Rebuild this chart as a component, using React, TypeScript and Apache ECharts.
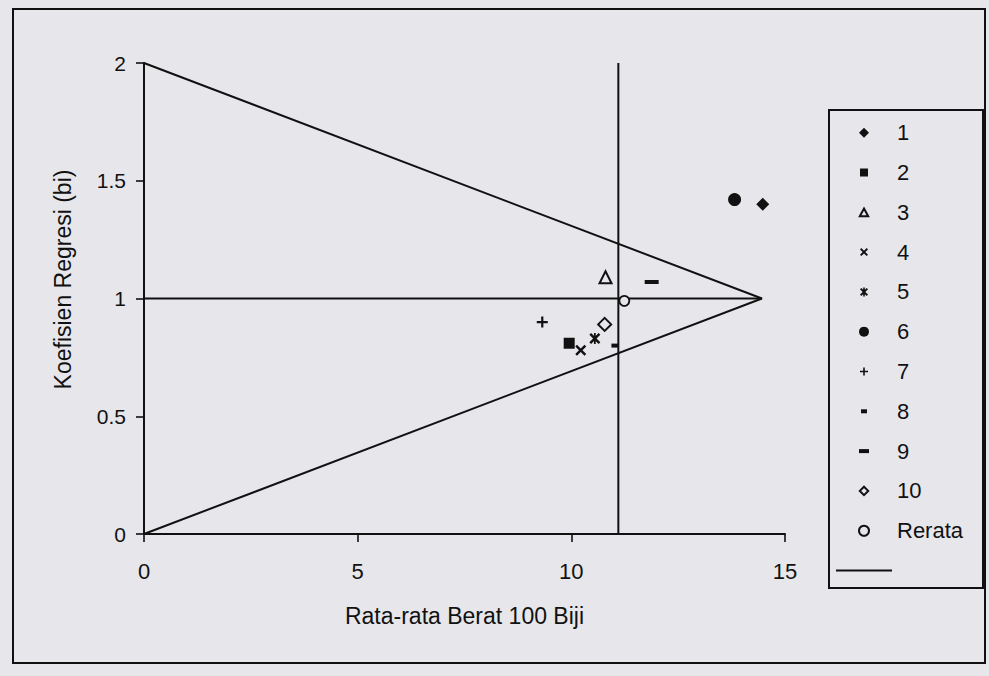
import React, { useEffect, useRef } from "react";
import * as echarts from "echarts";

// ---- data ----
const genotypes = ["1", "2", "3", "4", "5", "6", "7", "8", "9", "10"];
const meanWeight = [14.48, 9.95, 10.8, 10.22, 10.55, 13.82, 9.32, 11.02, 11.88, 10.78];
const regressionCoef = [1.4, 0.81, 1.09, 0.78, 0.83, 1.42, 0.9, 0.8, 1.07, 0.89];
const rerataLabel = "Rerata";
const rerataPoint = [11.24, 0.99];
const apex = [14.46, 1];
const verticalX = 11.1;
const xTitle = "Rata-rata Berat 100 Biji";
const yTitle = "Koefisien Regresi (bi)";

const BG = "#e7e7eb";
const INK = "#111";
const FONT = "'Liberation Sans', Arial, sans-serif";

const PATH_X =
  "path://M0,1.6L1.6,0L5,3.4L8.4,0L10,1.6L6.6,5L10,8.4L8.4,10L5,6.6L1.6,10L0,8.4L3.4,5Z";
const PATH_STAR =
  "path://M0,1.6L1.6,0L5,3.4L8.4,0L10,1.6L6.6,5L10,8.4L8.4,10L5,6.6L1.6,10L0,8.4L3.4,5ZM4.2,0H5.8V10H4.2Z";
const PATH_PLUS = "path://M4,0H6V4H10V6H6V10H4V6H0V4H4Z";
// legend icons, all padded to a 10x10 box so they keep their own size
const LEG_DIAMOND = "path://M0,0M10,10M5,0L10,5L5,10L0,5Z";
const LEG_SQUARE = "path://M0,0M10,10M1,1H9V9H1Z";
const LEG_TRIANGLE = "path://M0,0M10,10M5,1.2L9.2,9H0.8Z";
const LEG_X =
  "path://M0,0M10,10M1,2.3L2.3,1L5,3.7L7.7,1L9,2.3L6.3,5L9,7.7L7.7,9L5,6.3L2.3,9L1,7.7L3.7,5Z";
const LEG_STAR =
  "path://M0,0M10,10M1,2.3L2.3,1L5,3.7L7.7,1L9,2.3L6.3,5L9,7.7L7.7,9L5,6.3L2.3,9L1,7.7L3.7,5ZM4.2,0.5H5.8V9.5H4.2Z";
const LEG_PLUS = "path://M0,0M10,10M4.2,1H5.8V4.2H9V5.8H5.8V9H4.2V5.8H1V4.2H4.2Z";
const LEG_DASH8 = "path://M0,0M10,10M2,3H8V7H2Z";
const LEG_DASH9 = "path://M0,0M10,10M0,3H10V7H0Z";
const LEG_ODIAMOND = "path://M0,0M10,10M5,0.8L9.2,5L5,9.2L0.8,5Z";
const LEG_LINE = "path://M0,4H56V6H0Z";

type Sym = { symbol: string; size: number | number[]; open?: boolean; legendIcon?: string };
const symbols: Sym[] = [
  { symbol: "diamond", size: 13, legendIcon: LEG_DIAMOND },
  { symbol: "rect", size: 11, legendIcon: LEG_SQUARE },
  { symbol: "triangle", size: 12, open: true, legendIcon: LEG_TRIANGLE },
  { symbol: PATH_X, size: 11, legendIcon: LEG_X },
  { symbol: PATH_STAR, size: 11, legendIcon: LEG_STAR },
  { symbol: "circle", size: 13 },
  { symbol: PATH_PLUS, size: 11, legendIcon: LEG_PLUS },
  { symbol: "rect", size: [7, 4], legendIcon: LEG_DASH8 },
  { symbol: "rect", size: [14, 4], legendIcon: LEG_DASH9 },
  { symbol: "diamond", size: 13, open: true, legendIcon: LEG_ODIAMOND },
];

export default function App() {
  const ref = useRef<HTMLDivElement>(null);

  useEffect(() => {
    if (!ref.current) return;
    const chart = echarts.init(ref.current, undefined, { renderer: "svg" });

    const lineStyle = { color: INK, width: 2 };
    const lineSeriesName = " ";
    const mkLine = (data: number[][]) => ({
      type: "line",
      name: lineSeriesName,
      data,
      symbol: "none",
      itemStyle: { color: INK, opacity: 1 },
      lineStyle,
      z: 2,
      silent: true,
    });

    const scatterSeries = genotypes.map((g, i) => {
      const s = symbols[i];
      return {
        type: "scatter",
        name: g,
        data: [[meanWeight[i], regressionCoef[i]]],
        symbol: s.symbol,
        symbolSize: s.size,
        itemStyle: s.open
          ? { color: BG, borderColor: INK, borderWidth: 2, opacity: 1 }
          : { color: INK, opacity: 1 },
        z: 5,
      };
    });

    const legendData: any[] = genotypes.map((g, i) => {
      const s = symbols[i];
      return s.legendIcon ? { name: g, icon: s.legendIcon } : { name: g };
    });
    legendData.push({ name: rerataLabel });
    legendData.push({ name: lineSeriesName, icon: LEG_LINE });

    chart.setOption({
      animation: false,
      backgroundColor: BG,
      textStyle: { fontFamily: FONT, color: INK },
      grid: { left: 144, right: 204, top: 63, bottom: 142 },
      xAxis: {
        type: "value",
        min: 0,
        max: 15,
        interval: 5,
        name: xTitle,
        nameLocation: "middle",
        nameGap: 70,
        nameTextStyle: { fontSize: 23, color: INK, fontFamily: FONT },
        axisLine: { show: true, onZero: false, lineStyle: { color: INK, width: 2 } },
        axisTick: { show: true, length: 8, lineStyle: { color: INK, width: 1.6 } },
        axisLabel: { fontSize: 22, color: INK, margin: 26, fontFamily: FONT },
        splitLine: { show: false },
      },
      yAxis: {
        type: "value",
        min: 0,
        max: 2,
        interval: 0.5,
        name: yTitle,
        nameLocation: "middle",
        nameRotate: 90,
        nameGap: 70,
        nameTextStyle: { fontSize: 23, color: INK, fontFamily: FONT, padding: [0, 0, 0, 38] },
        axisLine: { show: true, onZero: false, lineStyle: { color: INK, width: 2 } },
        axisTick: { show: true, length: 8, lineStyle: { color: INK, width: 1.6 } },
        axisLabel: { fontSize: 21, color: INK, margin: 18, fontFamily: FONT },
        splitLine: { show: false },
      },
      legend: {
        orient: "vertical",
        left: 836,
        top: 121.7,
        padding: 0,
        itemWidth: 56,
        itemHeight: 10,
        itemGap: 17.8,
        selectedMode: false,
        itemStyle: { opacity: 1 },
        textStyle: { fontSize: 22, color: INK, fontFamily: FONT, lineHeight: 22 },
        data: legendData,
      },
      graphic: [
        {
          type: "rect",
          shape: { x: 13, y: 9, width: 972, height: 654 },
          style: { fill: "none", stroke: INK, lineWidth: 2 },
          silent: true,
          z: 0,
        },
        {
          type: "rect",
          shape: { x: 829, y: 110, width: 154, height: 478 },
          style: { fill: "none", stroke: INK, lineWidth: 2 },
          silent: true,
          z: 0,
        },
      ],
      series: [
        mkLine([[0, 2], apex, [0, 0]]),
        mkLine([[0, 1], apex]),
        mkLine([[verticalX, 0], [verticalX, 2]]),
        ...scatterSeries,
        {
          type: "scatter",
          name: rerataLabel,
          data: [rerataPoint],
          symbol: "circle",
          symbolSize: 10,
          itemStyle: { color: BG, borderColor: INK, borderWidth: 1.8, opacity: 1 },
          z: 6,
        },
      ],
    });

    return () => chart.dispose();
  }, []);

  return (
    <div
      ref={ref}
      style={{ position: "absolute", left: 0, top: 0, width: 989, height: 676 }}
    />
  );
}
